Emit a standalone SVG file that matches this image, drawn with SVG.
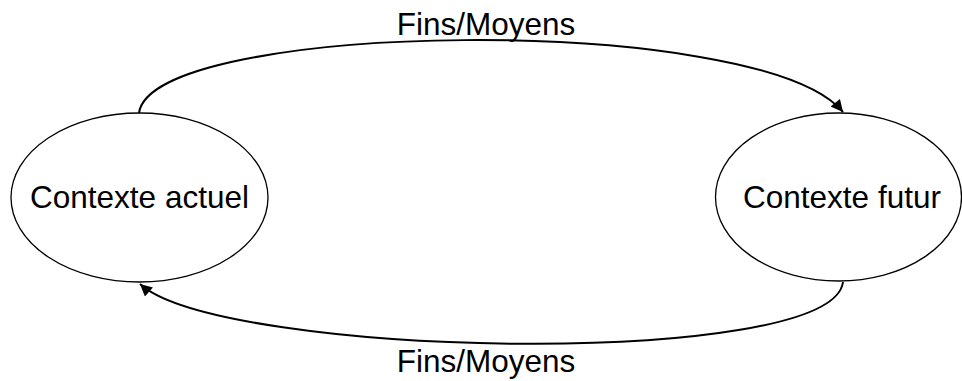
<svg xmlns="http://www.w3.org/2000/svg" width="962" height="381" viewBox="0 0 962 381">
<defs>
<style>
.node{fill:#fff;stroke:#000;stroke-width:1.3}
.lbl{font-family:"Liberation Sans",Arial,sans-serif;font-size:31.5px;fill:#000;text-anchor:middle}
.edge{fill:none;stroke:#000;stroke-width:2}
</style>
<marker id="arr" viewBox="0 0 10 10" refX="10" refY="5" markerWidth="6.5" markerHeight="6" orient="auto" markerUnits="strokeWidth">
<path d="M0,0 L10,5 L0,10 z" fill="#000"/>
</marker>
</defs>
<rect width="962" height="381" fill="#fff"/>
<g id="node-actuel">
<ellipse class="node" cx="139.5" cy="197.5" rx="128.5" ry="84.5"/>
<text class="lbl" x="139.5" y="208">Contexte actuel</text>
</g>
<g id="node-futur">
<ellipse class="node" cx="838.5" cy="197" rx="123" ry="84"/>
<text class="lbl" x="842" y="208">Contexte futur</text>
</g>
<g id="connectors">
<path class="edge" d="M139,113 C152,20 760,12 843,112" marker-end="url(#arr)"/>
<path class="edge" d="M843,282 C832,370 222,358 140,284" marker-end="url(#arr)"/>
<text class="lbl" x="486" y="35">Fins/Moyens</text>
<text class="lbl" x="486" y="372">Fins/Moyens</text>
</g>
</svg>
